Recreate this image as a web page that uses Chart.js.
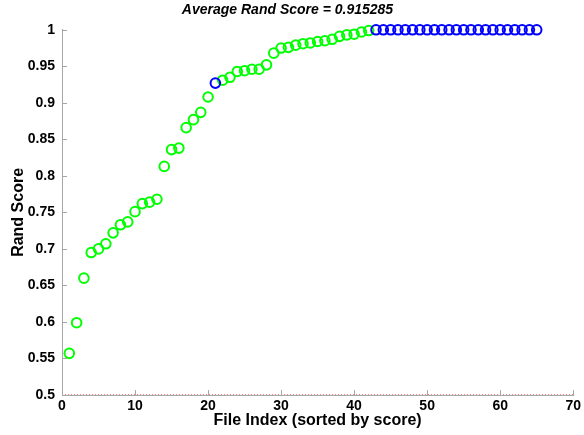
<!DOCTYPE html>
<html>
<head>
<meta charset="utf-8">
<script src="https://cdn.jsdelivr.net/npm/chart.js@4/dist/chart.umd.min.js"></script>
<style>
  html, body { margin: 0; padding: 0; background: #fff; }
  #wrap { width: 584px; height: 435px; }
</style>
</head>
<body>
<div id="wrap"><canvas id="c" width="584" height="435"></canvas></div>
<script>
// File indices and Rand scores, split by marker colour
const greenIndex = [1, 2, 3, 4, 5, 6, 7, 8, 9, 10, 11, 12, 13, 14, 15, 16, 17, 18, 19, 20,
  22, 23, 24, 25, 26, 27, 28, 29, 30, 31, 32, 33, 34, 35, 36, 37, 38, 39, 40, 41, 42];
const greenScore = [0.557, 0.599, 0.660, 0.695, 0.700, 0.707, 0.722, 0.733, 0.737, 0.751,
  0.762, 0.764, 0.768, 0.813, 0.836, 0.838, 0.866, 0.877, 0.887, 0.908,
  0.931, 0.935, 0.943, 0.944, 0.946, 0.946, 0.952, 0.968, 0.975, 0.976,
  0.979, 0.981, 0.982, 0.984, 0.985, 0.987, 0.991, 0.993, 0.994, 0.997, 0.999];
const blueIndex = [21, 43, 44, 45, 46, 47, 48, 49, 50, 51, 52, 53, 54, 55, 56, 57, 58, 59, 60,
  61, 62, 63, 64, 65];
const blueScore = [0.927, 1, 1, 1, 1, 1, 1, 1, 1, 1, 1, 1, 1, 1, 1, 1, 1, 1, 1,
  1, 1, 1, 1, 1];

// Baseline reference line
const baseX = [0, 70];
const baseY = [0.5, 0.5];

// Axis ticks
const xTicks = [0, 10, 20, 30, 40, 50, 60, 70];
const yTicks = [0.5, 0.55, 0.6, 0.65, 0.7, 0.75, 0.8, 0.85, 0.9, 0.95, 1];

const avgScore = 0.915285;

const toPts = (xs, ys) => xs.map((x, i) => ({ x: x, y: ys[i] }));

const axisGrey = '#a6a6a6';
const tickFont = { family: '"Liberation Sans", Arial, sans-serif', size: 14, weight: 'bold' };
const titleFont = { family: '"Liberation Sans", Arial, sans-serif', size: 16, weight: 'bold' };

// Inward tick marks along the left and bottom axes
const inwardTicks = {
  id: 'inwardTicks',
  afterDatasetsDraw(chart) {
    const { ctx, chartArea, scales } = chart;
    ctx.save();
    ctx.strokeStyle = axisGrey;
    ctx.lineWidth = 1;
    ctx.beginPath();
    scales.y.ticks.forEach(t => {
      const y = Math.round(scales.y.getPixelForValue(t.value)) + 0.5;
      ctx.moveTo(chartArea.left, y);
      ctx.lineTo(chartArea.left + 5, y);
    });
    scales.x.ticks.forEach(t => {
      const x = Math.round(scales.x.getPixelForValue(t.value)) + 0.5;
      ctx.moveTo(x, chartArea.bottom);
      ctx.lineTo(x, chartArea.bottom - 5);
    });
    ctx.stroke();
    ctx.restore();
  }
};

new Chart(document.getElementById('c'), {
  type: 'scatter',
  data: {
    datasets: [
      {
        type: 'line',
        data: toPts(baseX, baseY),
        borderColor: '#ff0000',
        borderWidth: 1,
        borderDash: [1, 2],
        pointRadius: 0,
        fill: false,
        order: 3
      },
      {
        data: toPts(greenIndex, greenScore),
        borderColor: '#00ff00',
        backgroundColor: 'rgba(0,0,0,0)',
        borderWidth: 2,
        pointRadius: 4.8,
        clip: false,
        order: 2
      },
      {
        data: toPts(blueIndex, blueScore),
        borderColor: '#0000ff',
        backgroundColor: 'rgba(0,0,0,0)',
        borderWidth: 2,
        pointRadius: 4.8,
        clip: false,
        order: 1
      }
    ]
  },
  options: {
    responsive: false,
    animation: false,
    layout: { padding: { left: 0, right: 9, top: 0, bottom: 0 } },
    plugins: {
      legend: { display: false },
      tooltip: { enabled: false },
      title: {
        display: true,
        text: 'Average Rand Score = ' + avgScore,
        color: '#000',
        font: { family: '"Liberation Sans", Arial, sans-serif', size: 14, weight: 'bold', style: 'italic' },
        padding: { top: 2, bottom: 11 }
      }
    },
    scales: {
      x: {
        type: 'linear',
        min: 0,
        max: 70,
        afterBuildTicks: s => { s.ticks = xTicks.map(v => ({ value: v })); },
        afterFit: s => { s.height = 40; },
        grid: { display: false, drawTicks: false },
        border: { display: true, color: axisGrey, width: 1 },
        ticks: { color: '#000', font: tickFont, padding: 3, maxRotation: 0 },
        title: {
          display: true,
          text: 'File Index (sorted by score)',
          color: '#000',
          font: titleFont,
          padding: { top: 5, bottom: 5 }
        }
      },
      y: {
        type: 'linear',
        min: 0.5,
        max: 1,
        afterBuildTicks: s => { s.ticks = yTicks.map(v => ({ value: v })); },
        afterFit: s => { s.width = 62; },
        grid: { display: false, drawTicks: false },
        border: { display: true, color: axisGrey, width: 1 },
        ticks: { color: '#000', font: tickFont, padding: 7, callback: v => String(v) },
        title: {
          display: true,
          text: 'Rand Score',
          color: '#000',
          font: titleFont,
          padding: { top: 9, bottom: 9 }
        }
      }
    }
  },
  plugins: [inwardTicks]
});
</script>
</body>
</html>
